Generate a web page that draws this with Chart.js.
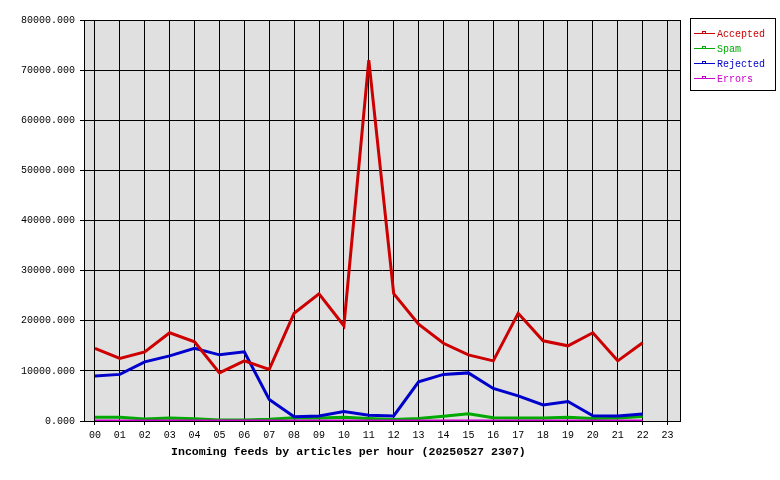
<!DOCTYPE html>
<html>
<head>
<meta charset="utf-8">
<script src="https://cdn.jsdelivr.net/npm/chart.js@4/dist/chart.umd.min.js"></script>
<style>
  html, body { margin: 0; padding: 0; background: #ffffff; }
  #wrap { width: 780px; height: 480px; }
</style>
</head>
<body>
<div id="wrap"><canvas id="c" width="780" height="480"></canvas></div>
<script>
const hours = ['00','01','02','03','04','05','06','07','08','09','10','11','12','13','14','15','16','17','18','19','20','21','22','23'];
const accepted = [14500, 12500, 13800, 17600, 15800, 9600, 12000, 10300, 21500, 25350, 19000, 72000, 25400, 19300, 15500, 13200, 12000, 21500, 16000, 15000, 17600, 12000, 15600];
const spam     = [750, 750, 400, 600, 450, 200, 200, 350, 640, 600, 760, 500, 300, 500, 950, 1450, 640, 600, 600, 760, 500, 600, 900];
const rejected = [9000, 9300, 11800, 13000, 14500, 13200, 13800, 4300, 850, 1000, 1900, 1150, 1000, 7800, 9300, 9600, 6500, 5000, 3200, 3900, 1050, 1000, 1400];
const errors   = [0, 0, 0, 0, 0, 0, 0, 0, 0, 0, 0, 0, 0, 0, 0, 0, 0, 0, 0, 0, 0, 0, 0];
const yTicks   = [0, 10000, 20000, 30000, 40000, 50000, 60000, 70000, 80000];
const caption  = 'Incoming feeds by articles per hour (20250527 2307)';

const seriesNames  = ['Accepted', 'Spam', 'Rejected', 'Errors'];
const seriesColors = ['#cc0000', '#00aa00', '#0000cc', '#cc00cc'];
const seriesValues = [accepted, spam, rejected, errors];
const drawOrder    = [1, 3, 2, 0];

const MONO = "'Liberation Mono', 'DejaVu Sans Mono', monospace";
Chart.defaults.font.family = MONO;
Chart.defaults.font.size = 10;
Chart.defaults.color = '#000000';

const datasets = seriesNames.map((name, k) => ({
  label: name,
  data: seriesValues[k].map((v, i) => ({ x: i, y: v })),
  borderColor: seriesColors[k],
  backgroundColor: seriesColors[k],
  borderWidth: 3,
  pointRadius: 0,
  pointHoverRadius: 0,
  fill: false,
  tension: 0,
  order: drawOrder[k]
}));

const framePlugin = {
  id: 'frame',
  beforeDraw(chart) {
    const a = chart.chartArea, ctx = chart.ctx;
    ctx.save();
    ctx.fillStyle = '#e0e0e0';
    ctx.fillRect(a.left, a.top, a.right - a.left, a.bottom - a.top);
    ctx.restore();
  },
  afterDraw(chart) {
    const a = chart.chartArea, ctx = chart.ctx;
    ctx.save();
    ctx.strokeStyle = '#000000';
    ctx.lineWidth = 1;
    ctx.strokeRect(Math.round(a.left) + 0.5, Math.round(a.top) + 0.5, Math.round(a.right - a.left), Math.round(a.bottom - a.top));
    // caption
    ctx.fillStyle = '#000000';
    ctx.font = 'bold 11.6px ' + MONO;
    ctx.textAlign = 'left';
    ctx.textBaseline = 'middle';
    ctx.fillText(caption, a.left + 87, a.bottom + 31);
    // legend
    const lx = a.right + 10, ly = a.top - 2;
    ctx.strokeRect(lx + 0.5, ly + 0.5, 85, 72);
    ctx.font = '10px ' + MONO;
    chart.data.datasets.forEach((ds, i) => {
      const y = ly + 15 + 15 * i;
      ctx.strokeStyle = ds.borderColor;
      ctx.lineWidth = 1;
      ctx.beginPath();
      ctx.moveTo(lx + 4, y + 0.5);
      ctx.lineTo(lx + 25, y + 0.5);
      ctx.stroke();
      ctx.strokeRect(lx + 12.5, y - 1.5, 3, 2);
      ctx.fillStyle = ds.borderColor;
      ctx.fillText(ds.label, lx + 27, y + 1);
    });
    ctx.restore();
  }
};

new Chart(document.getElementById('c'), {
  type: 'line',
  data: { datasets },
  plugins: [framePlugin],
  options: {
    responsive: false,
    animation: false,
    events: [],
    layout: { padding: { top: 20, right: 100, left: 0, bottom: 0 } },
    plugins: { legend: { display: false }, tooltip: { enabled: false }, title: { display: false } },
    scales: {
      x: {
        type: 'linear',
        min: -0.44,
        max: 23.5,
        afterFit(s) { s.height = 59; },
        afterBuildTicks(s) { s.ticks = hours.map((h, i) => ({ value: i })); },
        grid: { color: '#000000', lineWidth: 1, drawTicks: true, tickLength: 4 },
        border: { display: true, color: '#000000', width: 1 },
        ticks: {
          autoSkip: false, maxRotation: 0, padding: 4, color: '#000000',
          callback: (v) => hours[v]
        }
      },
      y: {
        min: 0,
        max: 80000,
        afterFit(s) { s.width = 84; },
        afterBuildTicks(s) { s.ticks = yTicks.map(v => ({ value: v })); },
        grid: { color: '#000000', lineWidth: 1, drawTicks: true, tickLength: 4 },
        border: { display: true, color: '#000000', width: 1 },
        ticks: { padding: 5, color: '#000000', callback: (v) => Number(v).toFixed(3) }
      }
    }
  }
});
</script>
</body>
</html>
